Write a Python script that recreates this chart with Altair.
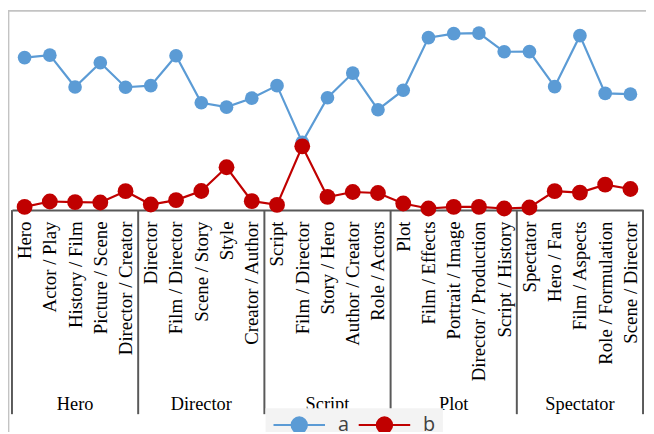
import json
import altair as alt
import pandas as pd

categories = ["Hero", "Actor / Play", "History / Film", "Picture / Scene", "Director / Creator",
              "Director", "Film / Director", "Scene / Story", "Style", "Creator / Author",
              "Script", "Film / Director", "Story / Hero", "Author / Creator", "Role / Actors",
              "Plot", "Film / Effects", "Portrait / Image", "Director / Production", "Script / History",
              "Spectator", "Hero / Fan", "Film / Aspects", "Role / Formulation", "Scene / Director"]
groups = ["Hero", "Director", "Script", "Plot", "Spectator"]
group_sizes = [5, 5, 5, 5, 5]
series_names = ["a", "b"]
series_a = [76.6, 77.8, 61.8, 74.0, 61.7, 62.5, 77.5, 53.9, 51.7, 56.2,
            62.5, 34.0, 56.4, 68.8, 50.4, 60.2, 86.6, 88.6, 88.9, 79.5,
            79.6, 62.0, 87.6, 58.6, 58.2]
series_b = [1.6, 4.3, 4.0, 3.8, 9.5, 2.8, 5.0, 9.6, 21.5, 4.5,
            2.6, 32.0, 6.6, 9.1, 8.6, 3.3, 0.8, 1.6, 1.6, 0.8,
            1.3, 9.5, 8.8, 12.8, 10.6]
colors = ["#5b9bd5", "#c00000"]

rows = []
for name, vals in zip(series_names, [series_a, series_b]):
    for i, v in enumerate(vals):
        rows.append({"idx": i, "value": v, "series": name})
df = pd.DataFrame(rows)

bounds = [-0.5]
centres = []
start = 0
for n in group_sizes:
    centres.append(start + (n - 1) / 2)
    start += n
    bounds.append(start - 0.5)
df_bounds = pd.DataFrame({"pos": bounds})
df_groups = pd.DataFrame({"group": groups, "centre": centres})

W, H = 637, 201
N = len(categories)

xscale = alt.Scale(domain=[-0.5, N - 0.5], nice=False, zero=False)
xaxis = alt.Axis(values=list(range(N)), labelExpr=json.dumps(categories) + "[datum.value]",
                 labelAngle=-90, title=None, grid=False, ticks=False,
                 domainColor="#595959", domainWidth=2,
                 labelFont="Liberation Serif", labelFontSize=19, labelColor="black",
                 labelPadding=11, labelOverlap=False, labelBound=False, labelFlush=False,
                 labelLimit=400)
yscale = alt.Scale(domain=[0, 100], nice=False, zero=True)

sscale = alt.Scale(domain=series_names, range=colors)
PATH = "M-1,0H1M-0.3,0A0.3,0.3,0,1,1,0.3,0A0.3,0.3,0,1,1,-0.3,0Z"
legend = alt.Legend(title=None, orient="none", legendX=256, legendY=401,
                    direction="horizontal", symbolType=PATH, symbolSize=2704,
                    clipHeight=20,
                    labelFont="Open Sans", labelFontSize=20,
                    labelColor="#404040", labelOffset=12, columnPadding=8,
                    padding=7, fillColor="#f3f3f3", symbolStrokeWidth=2)

base = alt.Chart(df)

seps = alt.Chart(df_bounds).mark_rule(color="#595959", strokeWidth=2, clip=False).encode(
    x=alt.X("pos:Q", scale=xscale, axis=xaxis),
    y=alt.value(H), y2=alt.value(H + 206))

glabels = alt.Chart(df_groups).mark_text(font="Liberation Serif", fontSize=18.5,
                                         baseline="alphabetic", color="black").encode(
    x=alt.X("centre:Q", scale=xscale, axis=xaxis),
    y=alt.value(H + 202), text="group:N")

frame_df = pd.DataFrame({"k": [0]})
frame_top = alt.Chart(frame_df).mark_rule(color="#c3c3c3", strokeWidth=1.8, clip=False).encode(
    x=alt.value(-4), x2=alt.value(W + 10), y=alt.value(0))
frame_left = alt.Chart(frame_df).mark_rule(color="#c3c3c3", strokeWidth=1.8, clip=False).encode(
    x=alt.value(-3.5), y=alt.value(0), y2=alt.value(H + 240))

lines = base.mark_line(strokeWidth=2.2).encode(
    x=alt.X("idx:Q", scale=xscale, axis=xaxis),
    y=alt.Y("value:Q", scale=yscale, axis=None),
    color=alt.Color("series:N", scale=sscale, legend=legend),
    detail="series:N")

pts_a = base.transform_filter(alt.datum.series == "a").mark_point(
    filled=True, opacity=1, size=190).encode(
    x=alt.X("idx:Q", scale=xscale, axis=xaxis),
    y=alt.Y("value:Q", scale=yscale, axis=None),
    color=alt.Color("series:N", scale=sscale, legend=legend))

pts_b = base.transform_filter(alt.datum.series == "b").mark_point(
    filled=True, opacity=1, size=255).encode(
    x=alt.X("idx:Q", scale=xscale, axis=xaxis),
    y=alt.Y("value:Q", scale=yscale, axis=None),
    color=alt.Color("series:N", scale=sscale, legend=legend))

chart = alt.layer(frame_top, frame_left, seps, glabels, lines, pts_a, pts_b).properties(
    width=W, height=H,
    autosize=alt.AutoSizeParams(type="none"),
    padding={"left": 4, "top": 1, "right": 3, "bottom": 222},
).configure_view(stroke=None)

chart.save("out.html", embed_options={"renderer": "svg", "actions": False})
